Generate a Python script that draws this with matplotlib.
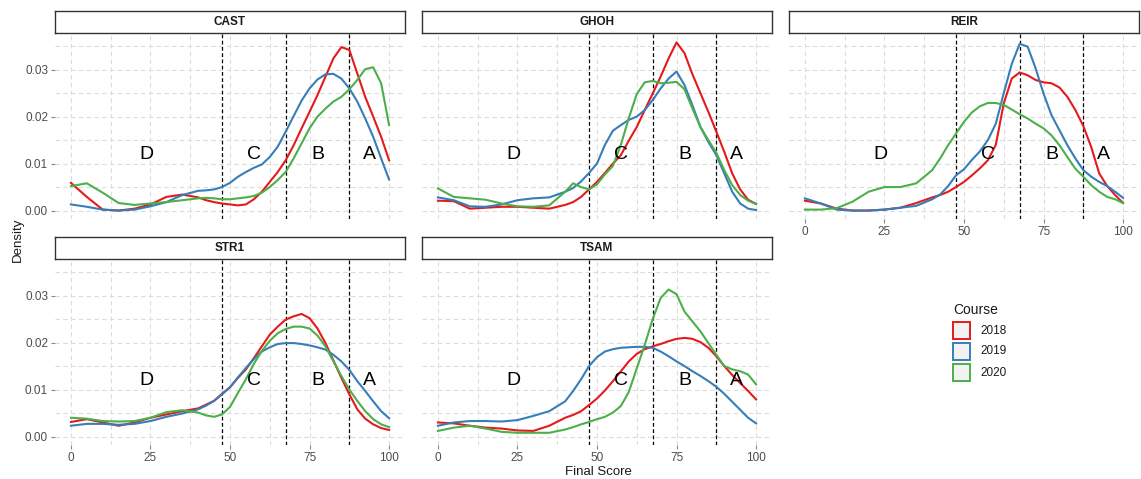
import numpy as np
import matplotlib.pyplot as plt
from matplotlib.patches import Rectangle

plt.rcParams['font.family'] = ['Liberation Sans', 'DejaVu Sans']

score = [0, 5, 10, 15, 20, 25, 30, 35, 40, 42.5, 45, 47.5, 50, 52.5, 55, 57.5, 60, 62.5, 65, 67.5,
         70, 72.5, 75, 77.5, 80, 82.5, 85, 87.5, 90, 92.5, 95, 97.5, 100]

# density per course and cohort
cast_2018 = [0.0059, 0.0029, 0.0002, 0.0000, 0.0004, 0.0013, 0.0029, 0.0034, 0.0028,
             0.0022, 0.0018, 0.0015, 0.0013, 0.0011, 0.0013, 0.0024, 0.0040, 0.0061, 0.0082, 0.0107,
             0.0139, 0.0175, 0.0210, 0.0246, 0.0285, 0.0324, 0.0348, 0.0342, 0.0292, 0.0242, 0.0200, 0.0157, 0.0107]
cast_2019 = [0.0013, 0.0008, 0.0002, 0.0000, 0.0002, 0.0009, 0.0018, 0.0033, 0.0042,
             0.0043, 0.0045, 0.0050, 0.0059, 0.0072, 0.0082, 0.0091, 0.0098, 0.0114, 0.0136, 0.0168,
             0.0201, 0.0234, 0.0260, 0.0279, 0.0290, 0.0291, 0.0281, 0.0260, 0.0232, 0.0196, 0.0157, 0.0111, 0.0066]
cast_2020 = [0.0052, 0.0058, 0.0038, 0.0016, 0.0012, 0.0015, 0.0018, 0.0022, 0.0026,
             0.0027, 0.0026, 0.0024, 0.0024, 0.0026, 0.0028, 0.0031, 0.0038, 0.0050, 0.0065, 0.0082,
             0.0111, 0.0143, 0.0175, 0.0200, 0.0217, 0.0232, 0.0242, 0.0258, 0.0278, 0.0301, 0.0305, 0.0271, 0.0182]

ghoh_2018 = [0.0021, 0.0020, 0.0004, 0.0006, 0.0008, 0.0008, 0.0006, 0.0004, 0.0012,
             0.0018, 0.0029, 0.0045, 0.0061, 0.0080, 0.0100, 0.0118, 0.0149, 0.0178, 0.0214, 0.0249,
             0.0285, 0.0324, 0.0358, 0.0335, 0.0290, 0.0250, 0.0210, 0.0168, 0.0125, 0.0079, 0.0045, 0.0023, 0.0014]
ghoh_2019 = [0.0028, 0.0022, 0.0009, 0.0008, 0.0013, 0.0022, 0.0026, 0.0028, 0.0040,
             0.0048, 0.0062, 0.0080, 0.0100, 0.0140, 0.0170, 0.0182, 0.0193, 0.0200, 0.0214, 0.0235,
             0.0260, 0.0281, 0.0296, 0.0267, 0.0224, 0.0178, 0.0146, 0.0118, 0.0079, 0.0040, 0.0015, 0.0004, 0.0001]
ghoh_2020 = [0.0047, 0.0029, 0.0026, 0.0023, 0.0015, 0.0009, 0.0008, 0.0011, 0.0040,
             0.0058, 0.0050, 0.0045, 0.0056, 0.0077, 0.0095, 0.0140, 0.0197, 0.0248, 0.0273, 0.0276,
             0.0271, 0.0272, 0.0274, 0.0258, 0.0217, 0.0178, 0.0150, 0.0123, 0.0086, 0.0054, 0.0033, 0.0021, 0.0014]

reir_2018 = [0.0021, 0.0015, 0.0004, 0.0000, 0.0000, 0.0002, 0.0006, 0.0016, 0.0028,
             0.0033, 0.0040, 0.0050, 0.0061, 0.0075, 0.0090, 0.0107, 0.0140, 0.0228, 0.0281, 0.0294,
             0.0288, 0.0278, 0.0273, 0.0271, 0.0262, 0.0242, 0.0214, 0.0180, 0.0135, 0.0079, 0.0052, 0.0033, 0.0016]
reir_2019 = [0.0026, 0.0015, 0.0002, 0.0000, 0.0000, 0.0002, 0.0006, 0.0010, 0.0024,
             0.0034, 0.0052, 0.0075, 0.0088, 0.0108, 0.0126, 0.0150, 0.0185, 0.0250, 0.0312, 0.0355,
             0.0349, 0.0303, 0.0249, 0.0203, 0.0171, 0.0139, 0.0111, 0.0086, 0.0072, 0.0061, 0.0052, 0.0040, 0.0027]
reir_2020 = [0.0002, 0.0002, 0.0005, 0.0019, 0.0040, 0.0050, 0.0050, 0.0058, 0.0086,
             0.0111, 0.0139, 0.0164, 0.0189, 0.0209, 0.0222, 0.0229, 0.0229, 0.0225, 0.0215, 0.0205,
             0.0196, 0.0185, 0.0175, 0.0160, 0.0139, 0.0114, 0.0089, 0.0072, 0.0054, 0.0040, 0.0029, 0.0024, 0.0016]

str1_2018 = [0.0031, 0.0037, 0.0030, 0.0023, 0.0030, 0.0040, 0.0047, 0.0054, 0.0060,
             0.0068, 0.0076, 0.0091, 0.0105, 0.0125, 0.0143, 0.0167, 0.0192, 0.0217, 0.0234, 0.0249,
             0.0256, 0.0261, 0.0252, 0.0230, 0.0199, 0.0162, 0.0125, 0.0090, 0.0058, 0.0038, 0.0026, 0.0018, 0.0014]
str1_2019 = [0.0023, 0.0027, 0.0027, 0.0025, 0.0027, 0.0033, 0.0042, 0.0049, 0.0058,
             0.0066, 0.0076, 0.0090, 0.0105, 0.0126, 0.0146, 0.0165, 0.0181, 0.0190, 0.0197, 0.0199,
             0.0199, 0.0197, 0.0194, 0.0190, 0.0185, 0.0174, 0.0160, 0.0142, 0.0118, 0.0097, 0.0075, 0.0054, 0.0039]
str1_2020 = [0.0040, 0.0038, 0.0033, 0.0032, 0.0033, 0.0040, 0.0052, 0.0056, 0.0051,
             0.0045, 0.0042, 0.0047, 0.0063, 0.0093, 0.0122, 0.0155, 0.0182, 0.0204, 0.0220, 0.0229,
             0.0234, 0.0234, 0.0230, 0.0215, 0.0192, 0.0160, 0.0129, 0.0100, 0.0076, 0.0054, 0.0037, 0.0026, 0.0020]

tsam_2018 = [0.0030, 0.0028, 0.0023, 0.0019, 0.0017, 0.0013, 0.0012, 0.0023, 0.0040,
             0.0046, 0.0054, 0.0067, 0.0081, 0.0098, 0.0118, 0.0139, 0.0160, 0.0176, 0.0186, 0.0192,
             0.0197, 0.0203, 0.0208, 0.0210, 0.0208, 0.0201, 0.0189, 0.0171, 0.0150, 0.0131, 0.0114, 0.0097, 0.0079]
tsam_2019 = [0.0023, 0.0030, 0.0033, 0.0033, 0.0032, 0.0035, 0.0044, 0.0054, 0.0075,
             0.0097, 0.0122, 0.0150, 0.0169, 0.0181, 0.0186, 0.0189, 0.0190, 0.0191, 0.0191, 0.0189,
             0.0181, 0.0171, 0.0160, 0.0150, 0.0139, 0.0129, 0.0118, 0.0106, 0.0091, 0.0074, 0.0057, 0.0040, 0.0028]
tsam_2020 = [0.0012, 0.0019, 0.0023, 0.0017, 0.0010, 0.0008, 0.0008, 0.0008, 0.0015,
             0.0020, 0.0026, 0.0031, 0.0037, 0.0042, 0.0051, 0.0065, 0.0095, 0.0145, 0.0195, 0.0250,
             0.0295, 0.0313, 0.0303, 0.0266, 0.0245, 0.0224, 0.0199, 0.0174, 0.0150, 0.0143, 0.0139, 0.0132, 0.0111]

courses = ['CAST', 'GHOH', 'REIR', 'STR1', 'TSAM']
years = ['2018', '2019', '2020']
colors = ['#E41A1C', '#377EB8', '#4DAF4A']
curves = {
    'CAST': [cast_2018, cast_2019, cast_2020],
    'GHOH': [ghoh_2018, ghoh_2019, ghoh_2020],
    'REIR': [reir_2018, reir_2019, reir_2020],
    'STR1': [str1_2018, str1_2019, str1_2020],
    'TSAM': [tsam_2018, tsam_2019, tsam_2020],
}

# grade cut-offs and labels
cutoffs = [47.5, 67.5, 87.5]
grades = ['D', 'C', 'B', 'A']
grade_x = [23.75, 57.5, 77.5, 93.75]
grade_y = 0.012

W, H = 1141, 479
fig = plt.figure(figsize=(W / 100, H / 100), dpi=100)

# panel boxes in pixels
col_left = [55, 422, 789]
panel_w = 350
row_top = [33, 259]
panel_h = 186
strip_h = 22

def fig_rect(left, top, w, h):
    return [left / W, 1 - (top + h) / H, w / W, h / H]

pos = [(0, 0), (0, 1), (0, 2), (1, 0), (1, 1)]
grid_col = '#DCDCDC'

for course, (r, c) in zip(courses, pos):
    ax = fig.add_axes(fig_rect(col_left[c], row_top[r], panel_w, panel_h))
    ax.set_xlim(-5, 105)
    ax.set_ylim(-0.0018, 0.0378)
    for s in ax.spines.values():
        s.set_visible(False)
    ax.set_xticks([0, 25, 50, 75, 100])
    ax.set_xticks([12.5, 37.5, 62.5, 87.5], minor=True)
    ax.set_yticks([0, 0.01, 0.02, 0.03])
    ax.set_yticks([0.005, 0.015, 0.025, 0.035], minor=True)
    ax.grid(True, which='both', color=grid_col, linestyle=(0, (4, 3)), linewidth=0.8)
    ax.set_axisbelow(True)
    ax.tick_params(which='major', length=3, color='#888888', labelcolor='#4D4D4D', labelsize=8.5, pad=2)
    ax.tick_params(which='minor', length=0)
    ax.yaxis.set_major_formatter(plt.FuncFormatter(lambda v, p: '%.2f' % v))
    # tick labels only on the outer panels
    if c != 0:
        ax.tick_params(axis='y', which='major', labelleft=False, length=0)
    if not (r == 1 or course == 'REIR'):
        ax.tick_params(axis='x', which='major', labelbottom=False, length=0)

    for cut in cutoffs:
        ax.axvline(cut, color='black', linestyle=(0, (3, 2)), linewidth=0.9)
    for g, gx in zip(grades, grade_x):
        ax.text(gx, grade_y, g, ha='center', va='center', fontsize=14, color='black')
    for ys, col in zip(curves[course], colors):
        ax.plot(score, ys, color=col, linewidth=1.5, solid_joinstyle='round')

    # facet strip
    sax = fig.add_axes(fig_rect(col_left[c], row_top[r] - strip_h, panel_w, strip_h))
    sax.set_xticks([])
    sax.set_yticks([])
    for s in sax.spines.values():
        s.set_color('#333333')
        s.set_linewidth(1.0)
    sax.text(0.5, 0.5, course, ha='center', va='center', fontsize=8.5, fontweight='bold',
             color='#1A1A1A', transform=sax.transAxes)

# axis titles
fig.text(598 / W, 1 - 472 / H, 'Final Score', ha='center', va='center', fontsize=9.5, color='#1A1A1A')
fig.text(18 / W, 1 - 240 / H, 'Density', ha='center', va='center', rotation=90, fontsize=9.5, color='#1A1A1A')

# legend
fig.text(953 / W, 1 - 310 / H, 'Course', ha='left', va='center', fontsize=10, color='#1A1A1A')
for i, (yr, col) in enumerate(zip(years, colors)):
    top = 322 + i * 21
    fig.patches.append(Rectangle((953 / W, 1 - (top + 17) / H), 17 / W, 17 / H, transform=fig.transFigure,
                                 facecolor='#F2F2F2', edgecolor=col, linewidth=1.4))
    fig.text(980 / W, 1 - (top + 8.5) / H, yr, ha='left', va='center', fontsize=8.5, color='#1A1A1A')

fig.savefig('out.png', dpi=100)
